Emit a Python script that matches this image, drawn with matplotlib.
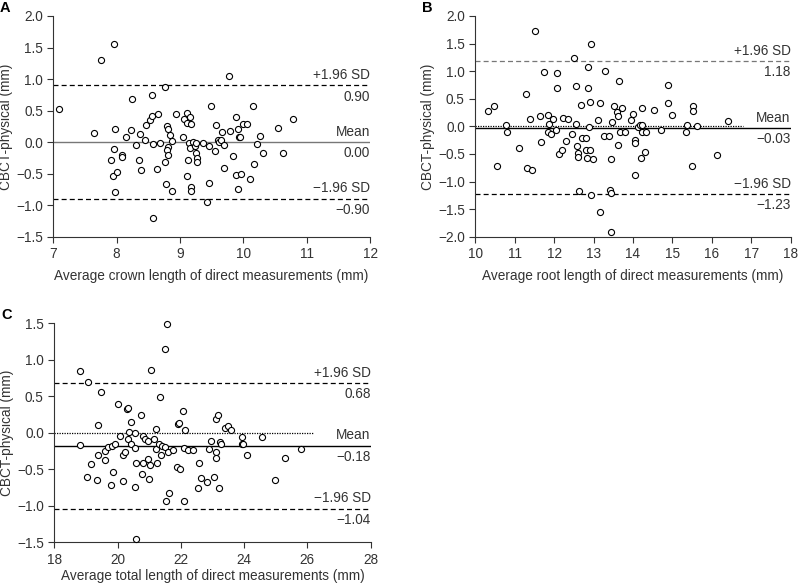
import matplotlib.pyplot as plt

plt.rcParams['font.family'] = ['Liberation Sans', 'DejaVu Sans']
plt.rcParams['font.size'] = 9.8

# panel A: crown length
crown_x = [7.09, 7.65, 7.75, 7.96, 7.97, 7.96, 7.91, 7.94, 8.01, 7.98, 8.09, 8.08, 8.15, 8.23,
           8.25, 8.31, 8.35, 8.37, 8.39, 8.44, 8.46, 8.52, 8.56, 8.56, 8.57, 8.57, 8.64, 8.66,
           8.69, 8.76, 8.77, 8.80, 8.81, 8.81, 8.79, 8.81, 8.78, 8.84, 8.88, 8.87, 8.94, 9.04,
           9.06, 9.11, 9.11, 9.16, 9.18, 9.11, 9.13, 9.14, 9.16, 9.17, 9.18, 9.20, 9.24, 9.26,
           9.27, 9.27, 9.26, 9.36, 9.43, 9.45, 9.45, 9.49, 9.55, 9.57, 9.60, 9.62, 9.64, 9.67,
           9.70, 9.70, 9.77, 9.79, 9.83, 9.89, 9.88, 9.92, 9.92, 9.93, 9.95, 9.97, 10.00, 10.06,
           10.10, 10.15, 10.17, 10.21, 10.27, 10.31, 10.55, 10.62, 10.79]
crown_d = [0.53, 0.14, 1.31, 1.56, 0.20, -0.11, -0.29, -0.54, -0.47, -0.79, -0.21, -0.23, 0.08, 0.19,
           0.68, -0.04, -0.29, 0.13, -0.44, 0.04, 0.27, 0.35, 0.41, 0.75, -0.03, -1.20, -0.42, 0.45,
           -0.02, -0.32, 0.88, 0.26, 0.20, -0.07, -0.13, -0.20, -0.67, 0.11, 0.01, -0.78, 0.44, 0.08,
           0.37, 0.46, 0.31, 0.40, 0.28, -0.53, -0.29, -0.02, -0.10, -0.71, -0.78, 0.00, -0.06, -0.18,
           -0.26, -0.31, -0.02, -0.01, -0.95, -0.65, -0.06, 0.57, -0.14, 0.27, 0.03, 0.00, 0.03, 0.16,
           -0.04, -0.41, 1.05, 0.17, -0.22, 0.40, -0.52, -0.74, 0.21, 0.08, 0.08, -0.51, 0.29, 0.28,
           -0.59, 0.57, -0.35, -0.03, 0.10, -0.17, 0.23, -0.17, 0.36]

# panel B: root length
root_x = [10.33, 10.48, 10.54, 10.78, 10.80, 11.11, 11.28, 11.30, 11.40, 11.43, 11.52, 11.65, 11.66,
          11.74, 11.85, 11.86, 11.85, 11.92, 11.96, 12.06, 12.08, 12.08, 12.13, 12.21, 12.23, 12.31,
          12.36, 12.45, 12.50, 12.55, 12.55, 12.59, 12.60, 12.60, 12.63, 12.68, 12.71, 12.80, 12.81,
          12.84, 12.85, 12.85, 12.89, 12.90, 12.91, 12.93, 12.94, 12.99, 13.11, 13.16, 13.16, 13.26,
          13.28, 13.39, 13.42, 13.43, 13.43, 13.45, 13.47, 13.51, 13.60, 13.63, 13.63, 13.64, 13.66,
          13.73, 13.80, 13.95, 14.00, 14.04, 14.04, 14.05, 14.14, 14.19, 14.21, 14.23, 14.24, 14.24,
          14.30, 14.33, 14.54, 14.72, 14.90, 14.90, 14.99, 15.34, 15.38, 15.49, 15.53, 15.53, 15.62,
          16.14, 16.41]
root_d = [0.28, 0.36, -0.71, 0.03, -0.11, -0.39, 0.58, -0.75, 0.14, -0.79, 1.73, 0.19, -0.28,
          0.99, 0.20, 0.05, -0.10, -0.14, 0.14, -0.06, 0.97, 0.69, -0.50, -0.42, 0.15, -0.27,
          0.14, -0.13, 1.23, 0.04, 0.74, -0.35, -0.48, -0.56, -1.18, 0.39, -0.22, -0.22, -0.42,
          -0.57, 1.08, 0.69, -0.01, -0.42, 0.45, -1.24, 1.49, -0.60, 0.11, 0.42, -1.56, -0.18,
          1.00, -0.18, -1.16, -1.21, -0.60, -1.91, 0.07, 0.37, 0.26, 0.18, -0.33, 0.83, -0.11,
          0.34, -0.11, 0.11, 0.23, -0.25, -0.31, -0.88, -0.02, 0.02, -0.57, 0.34, 0.03, -0.11,
          -0.47, -0.11, 0.30, -0.06, 0.75, 0.43, 0.21, -0.10, 0.02, -0.72, 0.37, 0.28, 0.01,
          -0.52, 0.10]

# panel C: total length
total_x = [18.81, 18.80, 19.07, 19.04, 19.16, 19.36, 19.37, 19.39, 19.47, 19.59, 19.61, 19.69, 19.79,
           19.84, 19.85, 19.92, 20.03, 20.09, 20.17, 20.17, 20.23, 20.29, 20.34, 20.32, 20.37, 20.41,
           20.44, 20.55, 20.56, 20.56, 20.59, 20.58, 20.74, 20.77, 20.79, 20.81, 20.88, 20.97, 20.95,
           20.99, 21.01, 21.06, 21.15, 21.20, 21.22, 21.24, 21.32, 21.35, 21.37, 21.40, 21.49, 21.50,
           21.54, 21.57, 21.61, 21.63, 21.74, 21.88, 21.90, 21.95, 21.98, 22.07, 22.09, 22.12, 22.11,
           22.23, 22.37, 22.53, 22.57, 22.63, 22.83, 22.89, 22.94, 23.06, 23.10, 23.12, 23.12, 23.17,
           23.22, 23.23, 23.28, 23.41, 23.49, 23.57, 23.92, 23.94, 23.98, 24.08, 24.55, 24.97, 25.30,
           25.79]
total_d = [0.84, -0.17, 0.69, -0.60, -0.43, -0.64, -0.31, 0.11, 0.56, -0.25, -0.37, -0.19, -0.71,
           -0.18, -0.54, -0.15, 0.39, -0.05, -0.30, -0.66, -0.27, 0.32, 0.34, -0.09, 0.01, -0.15,
           0.15, 0.00, -0.21, -0.74, -0.42, -1.45, 0.24, -0.57, -0.05, -0.41, -0.08, -0.11, -0.36,
           -0.63, -0.44, 0.86, -0.08, 0.05, -0.22, -0.42, -0.16, 0.49, -0.31, -0.18, -0.19, 1.15,
           -0.94, 1.49, -0.27, -0.83, -0.24, -0.47, 0.12, 0.14, -0.49, 0.30, -0.21, 0.04, -0.94,
           -0.24, -0.24, -0.76, -0.41, -0.62, -0.68, -0.22, -0.11, -0.60, -0.26, 0.19, -0.34, 0.24,
           -0.75, -0.13, -0.16, 0.06, 0.09, 0.04, -0.06, -0.15, -0.16, -0.31, -0.06, -0.65, -0.34,
           -0.22]

# mean, upper, lower limits
limits_A = [0.00, 0.90, -0.90]
limits_B = [-0.03, 1.18, -1.23]
limits_C = [-0.18, 0.68, -1.04]

dash = (0, (4, 2.5))


def panel(ax, x, d, lims, xlim, xticks, ylim, yticks, xlabel, letter,
          meancol='black', upcol='black', zeroline=None, xpad=6):
    mean, up, lo = lims
    ax.plot(x, d, 'o', ms=4.4, mfc='white', mec='black', mew=0.8, zorder=3, clip_on=False)
    ax.axhline(mean, color=meancol, lw=1.0, zorder=2)
    ax.axhline(up, color=upcol, lw=0.9, ls=dash)
    ax.axhline(lo, color='black', lw=0.9, ls=dash)
    if zeroline is not None:
        ax.plot([xlim[0], zeroline], [0, 0], color='black', lw=0.9, ls=(0, (1, 1)), zorder=2)
    ax.set_xlim(*xlim)
    ax.set_ylim(*ylim)
    ax.set_xticks(xticks)
    ax.set_yticks(yticks)
    ax.set_yticklabels([f"{v:.1f}".replace('-', '\u2212') for v in yticks])
    ax.spines['top'].set_visible(False)
    ax.spines['right'].set_visible(False)
    ax.spines['left'].set_color('#333333')
    ax.spines['bottom'].set_color('#333333')
    ax.tick_params(direction='out', length=4, width=0.8, colors='#333333', labelcolor='#333333')
    ax.set_xlabel(xlabel, color='#333333', labelpad=xpad)
    ax.set_ylabel('CBCT-physical (mm)', color='#333333', labelpad=2)
    tr = ax.get_yaxis_transform()
    for val, name in [(up, '+1.96 SD'), (mean, 'Mean'), (lo, '\u22121.96 SD')]:
        ax.annotate(name, (1, val), xycoords=tr, xytext=(0, 2.5), textcoords='offset points',
                    ha='right', va='bottom', color='#333333')
        ax.annotate(f"{val:.2f}".replace('-', '\u2212'), (1, val), xycoords=tr, xytext=(0, -3),
                    textcoords='offset points', ha='right', va='top', color='#333333')
    ax.text(-0.168, 1.068, letter, transform=ax.transAxes, fontsize=10.5, fontweight='bold',
            ha='left', va='top')


fig = plt.figure(figsize=(7.98, 5.86), dpi=100)
axA = fig.add_axes([0.0668, 0.5961, 0.3969, 0.3766])
axB = fig.add_axes([0.5956, 0.5961, 0.3952, 0.3766])
axC = fig.add_axes([0.0680, 0.0746, 0.3965, 0.3737])

panel(axA, crown_x, crown_d, limits_A, (7, 12), range(7, 13), (-1.5, 2.0),
      [-1.5, -1.0, -0.5, 0.0, 0.5, 1.0, 1.5, 2.0],
      'Average crown length of direct measurements (mm)', 'A', meancol='#777777')
panel(axB, root_x, root_d, limits_B, (10, 18), range(10, 19), (-2.0, 2.0),
      [-2.0, -1.5, -1.0, -0.5, 0.0, 0.5, 1.0, 1.5, 2.0],
      'Average root length of direct measurements (mm)', 'B', upcol='#777777', zeroline=16.8)
panel(axC, total_x, total_d, limits_C, (18, 28), range(18, 29, 2), (-1.5, 1.5),
      [-1.5, -1.0, -0.5, 0.0, 0.5, 1.0, 1.5],
      'Average total length of direct measurements (mm)', 'C', zeroline=26.2, xpad=2)

fig.savefig('out.png', dpi=100)
